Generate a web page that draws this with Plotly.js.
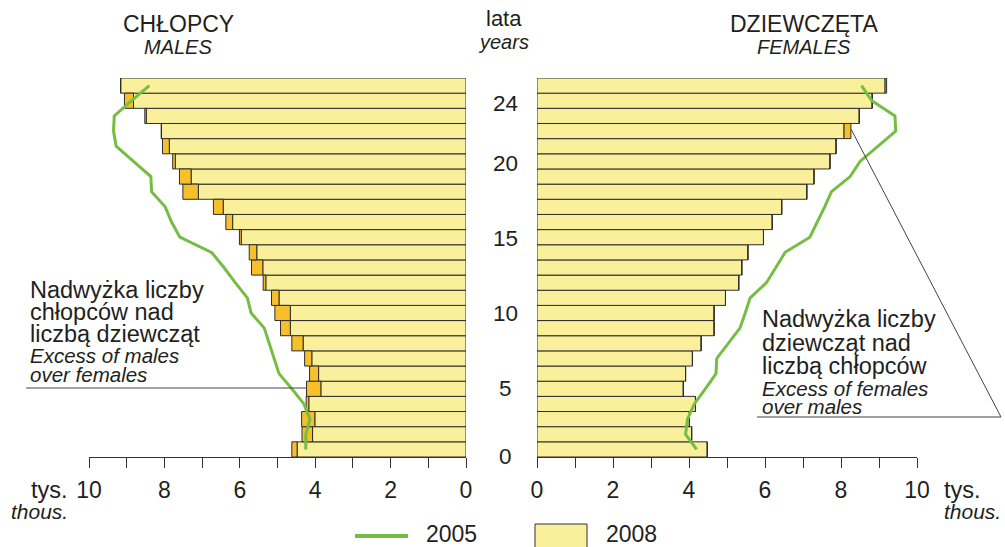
<!DOCTYPE html>
<html>
<head>
<meta charset="utf-8">
<script src="https://cdn.plot.ly/plotly-3.0.1.min.js"></script>
<style>
html,body{margin:0;padding:0;background:#fff;}
#chart{width:1005px;height:547px;}
</style>
</head>
<body>
<div id="chart"></div>
<script>
// Ages (years), bottom to top
const ages = [0,1,2,3,4,5,6,7,8,9,10,11,12,13,14,15,16,17,18,19,20,21,22,23,24];
// 2008 population, thousands
const males2008   = [4.62,4.35,4.36,4.24,4.23,4.15,4.28,4.62,4.92,5.07,5.16,5.38,5.69,5.75,6.01,6.37,6.70,7.51,7.60,7.78,8.05,8.08,8.52,9.06,9.16];
const females2008 = [4.48,4.07,4.01,4.17,3.85,3.91,4.09,4.32,4.66,4.66,4.96,5.31,5.39,5.55,5.96,6.19,6.44,7.10,7.29,7.71,7.87,8.26,8.48,8.82,9.20];
// 2005 population, thousands
const males2005   = [4.25,4.25,4.14,4.30,4.62,4.96,5.09,5.23,5.35,5.70,5.80,6.12,6.42,6.75,7.59,7.81,7.98,8.34,8.36,8.82,9.28,9.35,9.33,8.87,8.40];
const females2005 = [4.20,3.91,3.96,4.14,4.43,4.71,4.73,5.04,5.34,5.48,5.61,6.04,6.28,6.53,7.18,7.38,7.57,7.75,8.24,8.50,8.98,9.44,9.42,8.81,8.54];
// axis ticks
const xTickVals = [0,1,2,3,4,5,6,7,8,9,10];
const xTickText = ['0','','2','','4','','6','','8','','10'];
const ageLabels = ['0','5','10','15','20','24'];
const ageLabelY = [457,388,313,238,163,104];

const W = 1005, H = 547;
const px = v => v / W;
const py = v => 1 - v / H;

const YELLOW = '#FAF09C', ORANGE = '#F5C02A', GREEN = '#76BE43', EDGE = '#2e2e2e', TXT = '#231f20';
const FONT = '"Liberation Sans", Arial, Helvetica, sans-serif';

const common = (m, f) => m.map((v, i) => Math.min(v, f[i]));
const excess = (a, b) => a.map((v, i) => Math.max(v - b[i], 0));

const baseM = common(males2008, females2008);
const exM = excess(males2008, females2008);
const exF = excess(females2008, males2008);

const barStyle = (c) => ({color: c, line: {color: EDGE, width: 1}});

const traces = [
  {type:'bar', orientation:'h', y: ages, x: baseM, base: 0, width: 1, marker: barStyle(YELLOW), xaxis:'x', yaxis:'y', hoverinfo:'skip', showlegend:false},
  {type:'bar', orientation:'h', y: ages, x: exM, base: baseM, width: 1, marker: barStyle(ORANGE), xaxis:'x', yaxis:'y', hoverinfo:'skip', showlegend:false},
  {type:'bar', orientation:'h', y: ages, x: baseM, base: 0, width: 1, marker: barStyle(YELLOW), xaxis:'x2', yaxis:'y2', hoverinfo:'skip', showlegend:false},
  {type:'bar', orientation:'h', y: ages, x: exF, base: baseM, width: 1, marker: barStyle(ORANGE), xaxis:'x2', yaxis:'y2', hoverinfo:'skip', showlegend:false},
  {type:'scatter', mode:'lines', y: ages, x: males2005, line:{color: GREEN, width: 3}, xaxis:'x', yaxis:'y', hoverinfo:'skip', showlegend:false},
  {type:'scatter', mode:'lines', y: ages, x: females2005, line:{color: GREEN, width: 3}, xaxis:'x2', yaxis:'y2', hoverinfo:'skip', showlegend:false}
];

const yDom = [py(457), py(78)];
const xaxisBase = {
  tickvals: xTickVals, ticktext: xTickText, ticks:'outside', ticklen: 10, tickwidth: 1,
  tickcolor: '#333', showline: true, linecolor: '#333', linewidth: 1,
  showgrid: false, zeroline: false, fixedrange: true, ticklabelstandoff: 2,
  tickfont: {family: FONT, size: 23, color: TXT}
};

const ann = [];
const addText = (text, x, y, size, opts = {}) => ann.push(Object.assign({
  text, x: px(x), y: py(y), xref:'paper', yref:'paper', showarrow:false,
  xanchor:'center', yanchor:'middle', font:{family: FONT, size, color: TXT}
}, opts));
const it = s => '<i>' + s + '</i>';

addText('CHŁOPCY', 178, 24, 23);
addText(it('MALES'), 178, 47, 20);
addText('DZIEWCZĘTA', 804, 24, 23);
addText(it('FEMALES'), 804, 47, 20);
addText('lata', 504, 19, 22);
addText(it('years'), 504, 42, 20);
ageLabels.forEach((t, i) => addText(t, 505, ageLabelY[i], 22.5));
addText('tys.', 70, 490, 23.5, {xanchor:'right'});
addText(it('thous.'), 70, 511, 21, {xanchor:'right'});
addText('tys.', 942, 490, 23.5, {xanchor:'left'});
addText(it('thous.'), 942, 511, 21, {xanchor:'left'});

const leftNote = ['Nadwyżka liczby','chłopców nad','liczbą dziewcząt'];
const leftNoteIt = ['Excess of males','over females'];
[290, 312, 334].forEach((y, i) => addText(leftNote[i], 28, y, 23.5, {xanchor:'left'}));
[355, 374].forEach((y, i) => addText(it(leftNoteIt[i]), 28, y, 20.5, {xanchor:'left'}));

const rightNote = ['Nadwyżka liczby','dziewcząt nad','liczbą chłopców'];
const rightNoteIt = ['Excess of females','over males'];
[319, 343, 366].forEach((y, i) => addText(rightNote[i], 760, y, 23.5, {xanchor:'left'}));
[388, 406].forEach((y, i) => addText(it(rightNoteIt[i]), 760, y, 20.5, {xanchor:'left'}));

// legend texts
addText('2005', 451, 534, 23);
addText('2008', 631, 534, 23);

const line = (x0, y0, x1, y1, color, width) => ({type:'line', xref:'paper', yref:'paper',
  x0: px(x0), y0: py(y0), x1: px(x1), y1: py(y1), line:{color, width}});

const shapes = [
  line(26, 388, 307, 388, '#444', 1),
  line(757, 417, 1001, 417, '#444', 1),
  line(1001, 417, 851, 129, '#444', 1),
  line(355, 536, 408, 536, GREEN, 4),
  {type:'rect', xref:'paper', yref:'paper', x0: px(535), x1: px(587), y0: py(549), y1: py(524),
   fillcolor: YELLOW, line:{color: EDGE, width: 1}}
];

const layout = {
  width: W, height: H, margin:{l:0, r:0, t:0, b:0},
  paper_bgcolor:'#fff', plot_bgcolor:'rgba(0,0,0,0)',
  barmode:'overlay', bargap: 0, showlegend:false,
  font:{family: FONT, color: TXT},
  xaxis: Object.assign({domain:[px(89), px(466)], range:[10, 0], anchor:'y'}, xaxisBase),
  xaxis2: Object.assign({domain:[px(537), px(917)], range:[0, 10], anchor:'y2'}, xaxisBase),
  yaxis: {domain: yDom, range:[-0.5, 24.5], visible:false, fixedrange:true, anchor:'x'},
  yaxis2: {domain: yDom, range:[-0.5, 24.5], visible:false, fixedrange:true, anchor:'x2'},
  annotations: ann,
  shapes: shapes
};

Plotly.newPlot('chart', traces, layout, {displayModeBar:false, staticPlot:true});
</script>
</body>
</html>
